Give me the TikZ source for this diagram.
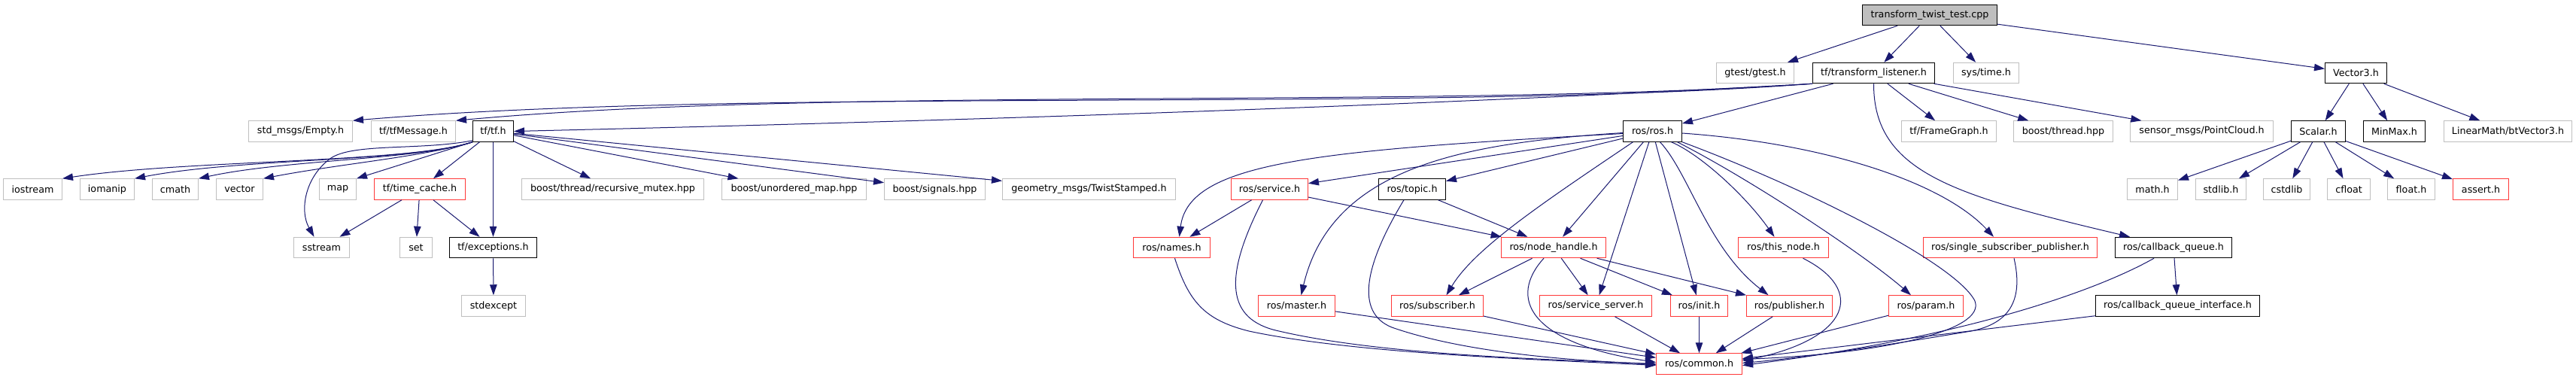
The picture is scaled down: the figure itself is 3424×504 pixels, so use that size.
\documentclass[tikz,border=0pt]{standalone}
\usepackage{fontspec}
\setmainfont{DejaVu Sans}
\usetikzlibrary{arrows.meta,calc}
\definecolor{edgeblue}{HTML}{191970}
\definecolor{extgrey}{HTML}{BFBFBF}
\definecolor{redb}{HTML}{FF3838}
\definecolor{mainfill}{HTML}{BFBFBF}
\newcommand\gnd[6]{\node[#1, minimum width={(#4)-(#3)-1.2}] (#2) at ({((#3)+(#4))/2},#5) {#6};}
\begin{document}
\begin{tikzpicture}[x=1pt,y=-1pt,
  gbase/.style={rectangle, line width=1.2pt, inner sep=0pt, minimum height=27.3pt, font=\fontsize{12.7}{15}\selectfont, fill=white},
  ext/.style={gbase, draw=extgrey},
  doc/.style={gbase, draw=black},
  redn/.style={gbase, draw=redb},
  mainst/.style={gbase, draw=black, fill=mainfill},
  dep/.style={draw=edgeblue, line width=1pt, -{Triangle[length=14pt,width=9.5pt,fill=edgeblue]}}]
\fill[white] (0,0) rectangle (3424,504);
\useasboundingbox (0,0) rectangle (3424,504);
% row 0
\gnd{mainst}{main}{2475}{2655}{20}{transform\_twist\_test.cpp}
% row 1
\gnd{ext}{gtest}{2281}{2385}{97}{gtest/gtest.h}
\gnd{doc}{tl}{2409}{2572}{97}{tf/transform\_listener.h}
\gnd{ext}{systime}{2596}{2684}{97}{sys/time.h}
\gnd{doc}{vec3}{3090}{3173}{97}{Vector3.h}
% row 2
\gnd{ext}{empty}{330}{469}{174.5}{std\_msgs/Empty.h}
\gnd{ext}{tfmsg}{493}{606}{174.5}{tf/tfMessage.h}
\gnd{doc}{tftf}{628}{683}{174.5}{tf/tf.h}
\gnd{doc}{rosros}{2157}{2236}{174.5}{ros/ros.h}
\gnd{ext}{framegraph}{2527}{2654}{174.5}{tf/FrameGraph.h}
\gnd{ext}{bthread}{2676}{2809}{174.5}{boost/thread.hpp}
\gnd{ext}{pcl}{2831}{3022}{174.5}{sensor\_msgs/PointCloud.h}
\gnd{doc}{scalar}{3045}{3118}{174.5}{Scalar.h}
\gnd{doc}{minmax}{3141}{3224}{174.5}{MinMax.h}
\gnd{ext}{btvec}{3248}{3419}{174.5}{LinearMath/btVector3.h}
% row 3
\gnd{ext}{iostream}{4}{83}{251.5}{iostream}
\gnd{ext}{iomanip}{106}{179}{251.5}{iomanip}
\gnd{ext}{cmath}{202}{264}{251.5}{cmath}
\gnd{ext}{vector}{287}{350}{251.5}{vector}
\gnd{ext}{map}{424}{474}{251.5}{map}
\gnd{redn}{timecache}{497}{619}{251.5}{tf/time\_cache.h}
\gnd{ext}{recmutex}{693}{936}{251.5}{boost/thread/recursive\_mutex.hpp}
\gnd{ext}{umap}{959}{1152}{251.5}{boost/unordered\_map.hpp}
\gnd{ext}{signals}{1175}{1310}{251.5}{boost/signals.hpp}
\gnd{ext}{twist}{1332}{1563}{251.5}{geometry\_msgs/TwistStamped.h}
\gnd{redn}{service}{1636}{1739}{251.5}{ros/service.h}
\gnd{doc}{topic}{1832}{1922}{251.5}{ros/topic.h}
\gnd{ext}{mathh}{2827}{2895}{251.5}{math.h}
\gnd{ext}{stdlibh}{2918}{2986}{251.5}{stdlib.h}
\gnd{ext}{cstdlib}{3008}{3071}{251.5}{cstdlib}
\gnd{ext}{cfloat}{3093}{3151}{251.5}{cfloat}
\gnd{ext}{floath}{3173}{3237}{251.5}{float.h}
\gnd{redn}{asserth}{3260}{3335}{251.5}{assert.h}
% row 4
\gnd{ext}{sstream}{390}{465}{329}{sstream}
\gnd{ext}{set}{531}{575}{329}{set}
\gnd{doc}{exceptions}{597}{714}{329}{tf/exceptions.h}
\gnd{redn}{names}{1506}{1609}{329}{ros/names.h}
\gnd{redn}{nodehandle}{1995}{2135}{329}{ros/node\_handle.h}
\gnd{redn}{thisnode}{2310}{2431}{329}{ros/this\_node.h}
\gnd{redn}{ssp}{2556}{2788}{329}{ros/single\_subscriber\_publisher.h}
\gnd{doc}{cbq}{2811}{2967}{329}{ros/callback\_queue.h}
% row 5
\gnd{ext}{stdexcept}{613}{699}{406.5}{stdexcept}
\gnd{redn}{master}{1672}{1775}{406.5}{ros/master.h}
\gnd{redn}{subscriber}{1849}{1972}{406.5}{ros/subscriber.h}
\gnd{redn}{servserver}{2046}{2196}{406.5}{ros/service\_server.h}
\gnd{redn}{init}{2220}{2297}{406.5}{ros/init.h}
\gnd{redn}{publisher}{2321}{2436}{406.5}{ros/publisher.h}
\gnd{redn}{param}{2510}{2610}{406.5}{ros/param.h}
\gnd{doc}{cbqi}{2785}{3004}{406.5}{ros/callback\_queue\_interface.h}
% row 6
\gnd{redn}{common}{2201}{2316}{483.5}{ros/common.h}

% ---- edges ----
\draw[dep] (main) -- (gtest);
\draw[dep] (main) -- (tl);
\draw[dep] (main) -- (systime);
\draw[dep] (main) -- (vec3);
% transform_listener
\draw[dep] (tl.south west) .. controls (1900,150) and (1000,115) .. (empty.north east);
\draw[dep] (tl.south west) .. controls (1900,145) and (1100,115) .. (tfmsg.north east);
\draw[dep] (tl.south west) .. controls (1900,140) and (1300,160) .. (tftf.east);
\draw[dep] (tl) -- (rosros);
\draw[dep] (tl) -- (framegraph);
\draw[dep] (tl) -- (bthread);
\draw[dep] (tl) -- (pcl);
\draw[dep] (tl.south) .. controls (2490,230) and (2600,260) .. ([xshift=20pt]cbq.north west);
% tf/tf.h
\draw[dep] (tftf.south west) .. controls (540,217) and (250,212) .. (iostream.north east);
\draw[dep] (tftf.south west) .. controls (550,215) and (320,210) .. (iomanip.north east);
\draw[dep] (tftf.south west) .. controls (560,212) and (380,212) .. (cmath.north east);
\draw[dep] (tftf.south west) .. controls (565,208) and (450,218) .. (vector.north east);
\draw[dep] (tftf.south west) -- (map.north east);
\draw[dep] ([yshift=2pt]tftf.south west) .. controls (560,200) and (470,190) .. (440,210) .. controls (405,235) and (398,280) .. ([xshift=-10pt]sstream.north);
\draw[dep] (tftf) -- (timecache);
\draw[dep] (tftf) -- (exceptions);
\draw[dep] (tftf) -- (recmutex);
\draw[dep] (tftf) -- (umap);
\draw[dep] (tftf) -- (signals);
\draw[dep] (tftf) -- (twist);
\draw[dep] (timecache) -- (sstream);
\draw[dep] (timecache) -- (set);
\draw[dep] (timecache) -- (exceptions);
\draw[dep] (exceptions) -- (stdexcept);
% ros/ros.h
\draw[dep] ([yshift=-3pt]rosros.west) .. controls (1750,200) and (1580,215) .. ([xshift=10pt]names.north);
\draw[dep] (rosros) -- (service);
\draw[dep] ([yshift=-2pt]rosros.west) .. controls (1950,190) and (1770,220) .. ([xshift=6pt]master.north);
\draw[dep] (rosros) -- (topic);
\draw[dep] ([xshift=-26pt]rosros.south) .. controls (2050,270) and (1960,330) .. ([xshift=12pt]subscriber.north);
\draw[dep] (rosros) -- (nodehandle);
\draw[dep] (rosros) -- (servserver);
\draw[dep] (rosros) -- (init);
\draw[dep] ([xshift=10pt]rosros.south) .. controls (2245,230) and (2270,330) .. ([xshift=-28pt]publisher.north);
\draw[dep] ([xshift=25pt]rosros.south) .. controls (2260,205) and (2320,260) .. ([xshift=-12pt]thisnode.north);
\draw[dep] ([xshift=33pt]rosros.south) .. controls (2330,240) and (2480,340) .. ([xshift=-20pt]param.north);
\draw[dep] ([yshift=-2.5pt]rosros.east) .. controls (2420,190) and (2580,240) .. ([xshift=-22pt]ssp.north);
\draw[dep] (rosros.south east) .. controls (2400,250) and (2600,350) .. (2625,400) .. controls (2640,440) and (2500,470) .. ([yshift=6pt]common.east);
% service, topic, names
\draw[dep] (service) -- (names);
\draw[dep] (service) -- (nodehandle);
\draw[dep] ([xshift=-9pt]service.south) .. controls (1625,370) and (1630,425) .. (1700,440) .. controls (1850,475) and (2100,478) .. ([yshift=-1pt]common.west);
\draw[dep] (topic) -- (nodehandle);
\draw[dep] ([xshift=-11pt]topic.south) .. controls (1815,350) and (1800,415) .. (1850,435) .. controls (1950,470) and (2100,480) .. (common.west);
\draw[dep] ([xshift=4pt]names.south) .. controls (1580,400) and (1600,425) .. (1660,440) .. controls (1800,470) and (2050,478) .. ([yshift=-2pt]common.west);
\draw[dep] (master) -- (common);
\draw[dep] (subscriber) -- (common);
% node_handle
\draw[dep] (nodehandle) -- (subscriber);
\draw[dep] (nodehandle) -- (servserver);
\draw[dep] (nodehandle) -- (init);
\draw[dep] (nodehandle) -- (publisher);
\draw[dep] ([xshift=-13pt]nodehandle.south) .. controls (2005,395) and (2030,455) .. ([yshift=2pt]common.west);
\draw[dep] (servserver) -- (common);
\draw[dep] (init) -- (common);
\draw[dep] (publisher) -- (common);
\draw[dep] ([xshift=26pt]thisnode.south) .. controls (2480,385) and (2460,450) .. ([yshift=4pt]common.east);
\draw[dep] (param) -- (common);
\draw[dep] ([xshift=5pt]ssp.south) .. controls (2690,400) and (2670,430) .. (2620,440) .. controls (2500,460) and (2400,475) .. ([yshift=1pt]common.east);
\draw[dep] ([xshift=-26pt]cbq.south) .. controls (2780,390) and (2600,450) .. ([yshift=-2pt]common.east);
\draw[dep] (cbq) -- (cbqi);
\draw[dep] (cbqi) -- (common);
% Vector3 / Scalar
\draw[dep] (vec3) -- (scalar);
\draw[dep] (vec3) -- (minmax);
\draw[dep] (vec3) -- (btvec);
\draw[dep] (scalar) -- (mathh);
\draw[dep] (scalar) -- (stdlibh);
\draw[dep] (scalar) -- (cstdlib);
\draw[dep] (scalar) -- (cfloat);
\draw[dep] (scalar) -- (floath);
\draw[dep] (scalar) -- (asserth);
\end{tikzpicture}
\end{document}
